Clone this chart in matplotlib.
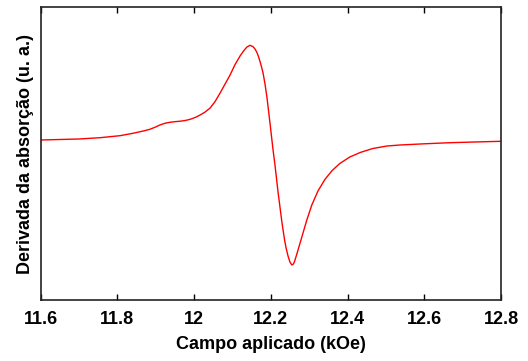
import matplotlib
matplotlib.use("Agg")
import matplotlib.pyplot as plt

# campo aplicado (kOe) e derivada da absorcao (u. a.)
campo = [11.600, 11.650, 11.700, 11.755, 11.807, 11.841, 11.870, 11.885,
         11.900, 11.911, 11.925, 11.937, 11.950, 11.964, 11.977, 11.990,
         12.003, 12.016, 12.029, 12.042, 12.055, 12.068, 12.081, 12.094,
         12.107, 12.120, 12.130, 12.138, 12.146, 12.154, 12.159, 12.164,
         12.168, 12.172, 12.176, 12.180, 12.185, 12.190, 12.198, 12.206,
         12.211, 12.219, 12.229, 12.236, 12.240, 12.245, 12.250, 12.255,
         12.259, 12.262, 12.268, 12.281, 12.294, 12.307, 12.323, 12.341,
         12.360, 12.380, 12.406, 12.433, 12.466, 12.503, 12.537, 12.600,
         12.667, 12.730, 12.800]
derivada = [0.0, 0.5, 1.0, 2.3, 4.3, 6.7, 9.2, 10.7,
            13.0, 15.0, 16.8, 17.7, 18.3, 18.8, 19.5, 20.7,
            22.5, 25.0, 28.0, 32.0, 38.5, 47.0, 56.0, 65.0,
            75.5, 84.0, 89.5, 93.0, 94.7, 93.3, 91.0, 87.5,
            83.5, 78.5, 73.0, 67.0, 56.0, 43.0, 17.0, -10.0,
            -25.0, -52.0, -82.0, -100.0, -108.0, -116.0, -122.0, -125.0,
            -124.0, -121.5, -114.0, -97.0, -80.0, -65.0, -51.0, -39.5,
            -30.5, -23.5, -17.0, -12.5, -8.5, -6.0, -5.0, -3.8,
            -2.7, -2.0, -1.3]

xticks = [11.6, 11.8, 12.0, 12.2, 12.4, 12.6, 12.8]
xticklabels = ["11.6", "11.8", "12", "12.2", "12.4", "12.6", "12.8"]

plt.rcParams['font.family'] = ['Liberation Sans', 'DejaVu Sans']

fig = plt.figure(figsize=(5.28, 3.61), dpi=100)
ax = fig.add_axes([40.5 / 528, 61 / 361, 460.5 / 528, 293 / 361])

ax.plot(campo, derivada, color='red', lw=1.0)

ax.set_xlim(11.6, 12.8)
ax.set_ylim(-160, 133)
ax.set_xticks(xticks)
ax.set_xticklabels(xticklabels, fontsize=13, fontweight='bold')
ax.set_yticks([])
ax.tick_params(axis='x', direction='in', top=True, length=4, width=1,
               pad=8)

for s in ax.spines.values():
    s.set_linewidth(1.2)
    s.set_color('#222222')

ax.set_xlabel('Campo aplicado (kOe)', fontsize=13, fontweight='bold',
              labelpad=6)
ax.set_ylabel('Derivada da absorção (u. a.)', fontsize=13, fontweight='bold',
              labelpad=5)

fig.savefig('out.png', dpi=100)
